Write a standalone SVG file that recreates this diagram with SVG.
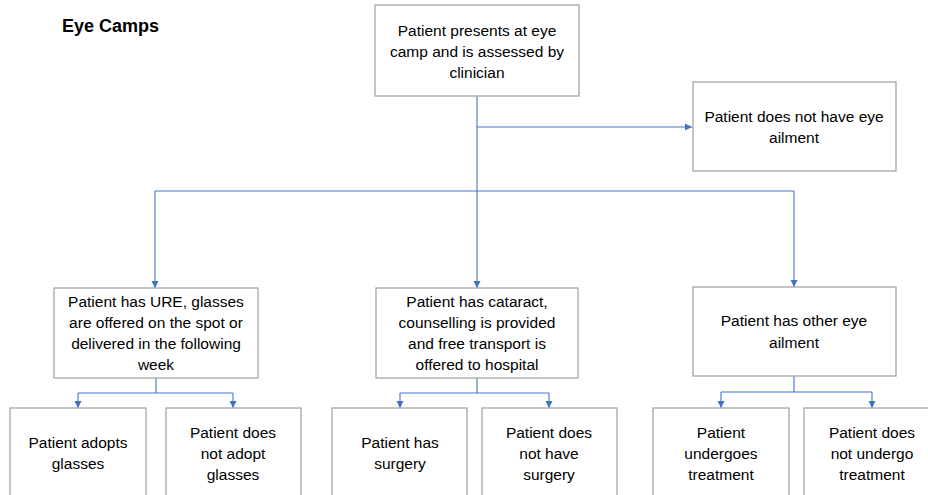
<svg xmlns="http://www.w3.org/2000/svg" width="928" height="495" viewBox="0 0 928 495">
<style>
.box{fill:#fff;stroke:#a6a6a6;stroke-width:1.3}
.t{font-family:"Liberation Sans",Arial,sans-serif;font-size:15.5px;fill:#000;text-anchor:middle}
.title{font-family:"Liberation Sans",Arial,sans-serif;font-size:18px;font-weight:bold;fill:#000}
.c{fill:none;stroke:#4472c4;stroke-width:1.1}
</style>
<defs>
<marker id="ah" markerWidth="8" markerHeight="8" refX="7" refY="4" orient="auto" markerUnits="userSpaceOnUse">
<path d="M0,0.5 L7,4 L0,7.5 Z" fill="#4472c4"/>
</marker>
</defs>
<rect width="928" height="495" fill="#fff"/>
<text class="title" x="62" y="32">Eye Camps</text>
<g id="connectors">
<path class="c" d="M477,96 V288" marker-end="url(#ah)"/>
<path class="c" d="M477,127 H692" marker-end="url(#ah)"/>
<path class="c" d="M155,191 H794"/>
<path class="c" d="M155,191 V288" marker-end="url(#ah)"/>
<path class="c" d="M794,191 V287" marker-end="url(#ah)"/>
<path class="c" d="M156,378 V393 M78,393 H233"/>
<path class="c" d="M78,393 V408" marker-end="url(#ah)"/>
<path class="c" d="M233,393 V408" marker-end="url(#ah)"/>
<path class="c" d="M477,378 V393 M400,393 H549"/>
<path class="c" d="M400,393 V408" marker-end="url(#ah)"/>
<path class="c" d="M549,393 V408" marker-end="url(#ah)"/>
<path class="c" d="M794,376 V392 M721,392 H872"/>
<path class="c" d="M721,392 V408" marker-end="url(#ah)"/>
<path class="c" d="M872,392 V408" marker-end="url(#ah)"/>
</g>
<g id="n_start">
<rect class="box" x="375" y="5" width="204" height="91"/>
<text class="t" x="477" y="36">Patient presents at eye</text>
<text class="t" x="477" y="57">camp and is assessed by</text>
<text class="t" x="477" y="78">clinician</text>
</g>
<g id="n_noailment">
<rect class="box" x="693" y="82" width="203" height="89"/>
<text class="t" x="794" y="122">Patient does not have eye</text>
<text class="t" x="794" y="143">ailment</text>
</g>
<g id="n_ure">
<rect class="box" x="54" y="288" width="204" height="90"/>
<text class="t" x="156" y="307">Patient has URE, glasses</text>
<text class="t" x="156" y="328">are offered on the spot or</text>
<text class="t" x="156" y="349">delivered in the following</text>
<text class="t" x="156" y="370">week</text>
</g>
<g id="n_cataract">
<rect class="box" x="376" y="288" width="202" height="90"/>
<text class="t" x="477" y="307">Patient has cataract,</text>
<text class="t" x="477" y="328">counselling is provided</text>
<text class="t" x="477" y="349">and free transport is</text>
<text class="t" x="477" y="370">offered to hospital</text>
</g>
<g id="n_other">
<rect class="box" x="693" y="287" width="203" height="89"/>
<text class="t" x="794" y="326">Patient has other eye</text>
<text class="t" x="794" y="348">ailment</text>
</g>
<g id="n_adopt">
<rect class="box" x="10" y="408" width="136" height="100"/>
<text class="t" x="78" y="448">Patient adopts</text>
<text class="t" x="78" y="469">glasses</text>
</g>
<g id="n_notadopt">
<rect class="box" x="166" y="408" width="135" height="100"/>
<text class="t" x="233" y="438">Patient does</text>
<text class="t" x="233" y="459">not adopt</text>
<text class="t" x="233" y="480">glasses</text>
</g>
<g id="n_surgery">
<rect class="box" x="332" y="408" width="135" height="100"/>
<text class="t" x="400" y="448">Patient has</text>
<text class="t" x="400" y="469">surgery</text>
</g>
<g id="n_nosurgery">
<rect class="box" x="482" y="408" width="135" height="100"/>
<text class="t" x="549" y="438">Patient does</text>
<text class="t" x="549" y="459">not have</text>
<text class="t" x="549" y="480">surgery</text>
</g>
<g id="n_treat">
<rect class="box" x="653" y="408" width="136" height="100"/>
<text class="t" x="721" y="438">Patient</text>
<text class="t" x="721" y="459">undergoes</text>
<text class="t" x="721" y="480">treatment</text>
</g>
<g id="n_notreat">
<rect class="box" x="804" y="408" width="136" height="100"/>
<text class="t" x="872" y="438">Patient does</text>
<text class="t" x="872" y="459">not undergo</text>
<text class="t" x="872" y="480">treatment</text>
</g>
</svg>
